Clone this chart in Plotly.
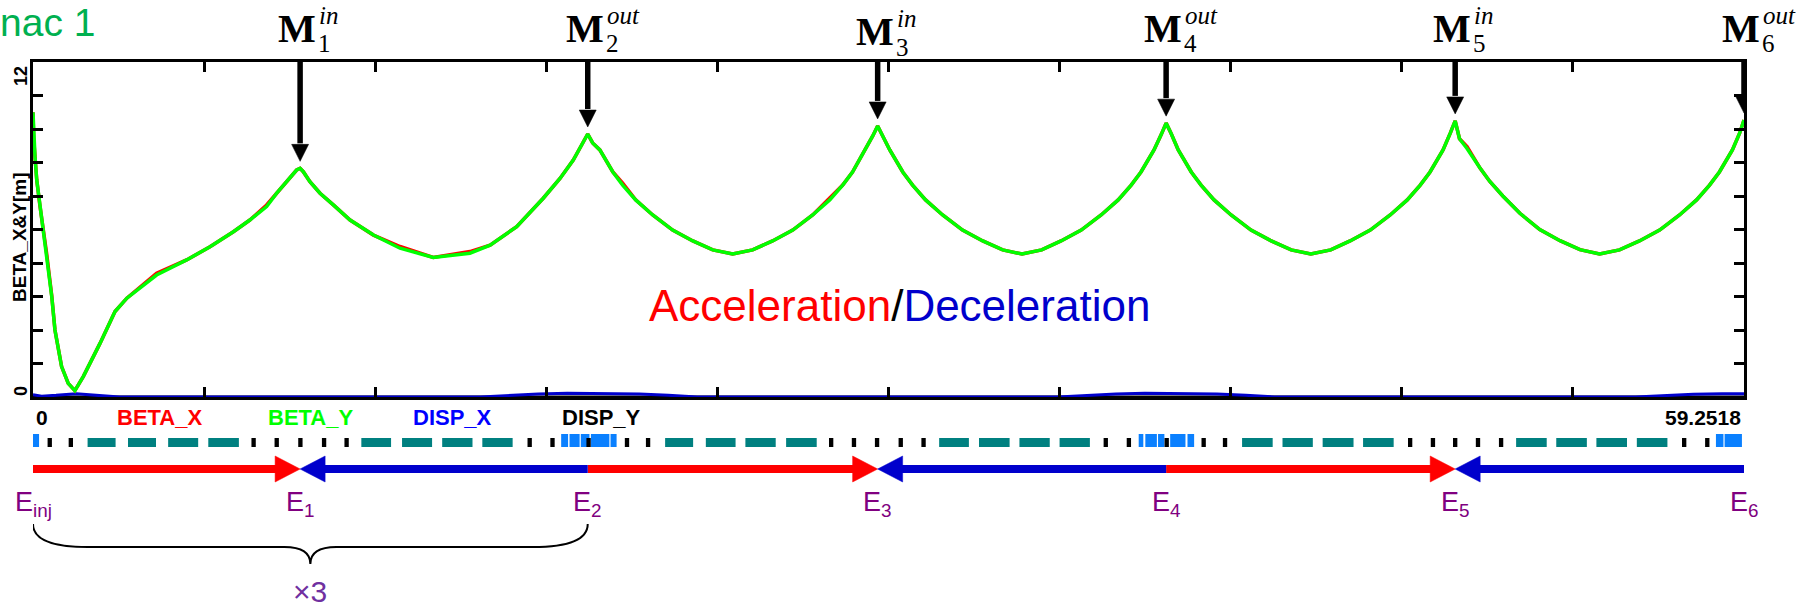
import plotly.graph_objects as go

# ---------------- data ----------------
S_END = 59.2518

s_beta = [0.00, 0.02, 0.07, 0.13, 0.24, 0.36, 0.47, 0.65, 0.76, 0.99, 1.22, 1.45, 1.74, 2.32, 2.84,
          3.25, 4.28, 5.32, 6.13, 6.94, 7.51, 8.09, 8.44, 8.90, 9.13, 9.25, 9.36, 9.59, 9.94, 10.40,
          10.98, 11.79, 12.71, 13.86, 15.13, 15.83, 16.75, 17.67, 18.25, 18.71, 19.21,
          19.38, 19.63, 20.08, 20.42, 20.87, 21.46, 22.15, 22.85, 23.54, 24.23, 24.92, 25.61, 26.31,
          27.00, 27.59, 28.04, 28.38, 28.83, 29.08, 29.25,
          29.42, 29.67, 30.12, 30.46, 30.91, 31.50, 32.19, 32.89, 33.58, 34.25, 34.93, 35.60, 36.30,
          36.99, 37.58, 38.03, 38.37, 38.82, 39.07, 39.24,
          39.41, 39.66, 40.11, 40.45, 40.90, 41.49, 42.18, 42.88, 43.57, 44.25, 44.94, 45.61, 46.31,
          47.00, 47.59, 48.04, 48.38, 48.83, 49.08, 49.25,
          49.40, 49.66, 50.11, 50.45, 50.90, 51.49, 52.18, 52.88, 53.57, 54.25, 54.94, 55.63, 56.33,
          57.02, 57.61, 58.06, 58.40, 58.85, 59.10, 59.2518]

beta_y = [10.20, 9.40, 8.60, 7.77, 6.85, 5.98, 5.16, 3.59, 2.40, 1.09, 0.49, 0.23, 0.73, 1.92, 3.06,
          3.54, 4.37, 4.91, 5.38, 5.92, 6.34, 6.82, 7.30, 7.83, 8.13, 8.19, 8.07, 7.71, 7.30, 6.88,
          6.34, 5.80, 5.33, 5.00, 5.15, 5.44, 6.10, 7.12, 7.83, 8.49, 9.42,
          9.10, 8.85, 8.06, 7.59, 7.06, 6.52, 5.98, 5.59, 5.27, 5.12, 5.27, 5.59, 5.98,
          6.52, 7.06, 7.59, 8.06, 8.85, 9.35, 9.71,
          9.38, 8.85, 8.06, 7.59, 7.06, 6.52, 5.98, 5.59, 5.27, 5.12, 5.27, 5.59, 5.98,
          6.52, 7.06, 7.59, 8.06, 8.85, 9.40, 9.81,
          9.45, 8.85, 8.06, 7.59, 7.06, 6.52, 5.98, 5.59, 5.27, 5.12, 5.27, 5.59, 5.98,
          6.52, 7.06, 7.59, 8.06, 8.85, 9.45, 9.89,
          9.25, 8.90, 8.20, 7.72, 7.20, 6.58, 6.00, 5.60, 5.28, 5.12, 5.27, 5.59, 5.98,
          6.52, 7.06, 7.59, 8.06, 8.85, 9.45, 9.92]

beta_x = [10.20, 9.30, 8.60, 7.77, 6.85, 6.05, 5.16, 3.62, 2.40, 1.09, 0.49, 0.23, 0.73, 1.92, 3.06,
          3.54, 4.43, 4.91, 5.38, 5.92, 6.34, 6.88, 7.30, 7.83, 8.13, 8.19, 8.07, 7.71, 7.30, 6.88,
          6.34, 5.80, 5.39, 5.00, 5.21, 5.44, 6.10, 7.12, 7.83, 8.49, 9.42,
          9.10, 8.85, 8.06, 7.66, 7.06, 6.52, 5.98, 5.59, 5.27, 5.12, 5.27, 5.59, 5.98,
          6.52, 7.13, 7.59, 8.06, 8.85, 9.35, 9.71,
          9.38, 8.85, 8.06, 7.59, 7.06, 6.52, 5.98, 5.59, 5.27, 5.12, 5.27, 5.59, 5.98,
          6.52, 7.06, 7.59, 8.06, 8.85, 9.40, 9.81,
          9.45, 8.85, 8.06, 7.59, 7.06, 6.52, 5.98, 5.59, 5.27, 5.12, 5.27, 5.59, 5.98,
          6.52, 7.06, 7.59, 8.06, 8.85, 9.45, 9.89,
          9.25, 8.97, 8.20, 7.72, 7.20, 6.58, 6.00, 5.60, 5.28, 5.12, 5.27, 5.59, 5.98,
          6.52, 7.06, 7.59, 8.06, 8.85, 9.45, 9.92]

s_disp = [0.0, 0.3, 0.8, 1.5, 2.3, 3.0, 15.5, 16.5, 17.5, 18.5, 19.2, 20.0, 21.0, 22.0, 23.0,
          35.5, 36.5, 37.5, 38.5, 39.2, 40.0, 41.0, 42.0, 43.0, 55.5, 56.5, 57.5, 58.5, 59.2518]
disp_x = [0.08, 0.03, 0.06, 0.12, 0.05, 0.0, 0.0, 0.06, 0.11, 0.13, 0.13, 0.13, 0.11, 0.06, 0.0,
          0.0, 0.06, 0.11, 0.13, 0.13, 0.13, 0.11, 0.06, 0.0, 0.0, 0.05, 0.10, 0.12, 0.12]
s_dispy = [0.0, 59.2518]
disp_y = [0.0, 0.0]

x_ticks = [0.0, 5.925, 11.850, 17.776, 23.701, 29.626, 35.551, 41.476, 47.401, 53.327, 59.2518]
y_ticks = [0.0, 1.2, 2.4, 3.6, 4.8, 6.0, 7.2, 8.4, 9.6, 10.8, 12.0]
y_range = [0.0, 12.0]
y_tick_text = ["0", "12"]

# matching points M_k (position, beta at the peak)
m_s = [9.25, 19.21, 29.25, 39.24, 49.25, 59.2518]
m_beta = [8.19, 9.42, 9.71, 9.81, 9.89, 9.92]
m_sub = ["1", "2", "3", "4", "5", "6"]
m_sup = ["in", "out", "in", "out", "in", "out"]

# energies along the linac
e_s = [0.0, 9.25, 19.21, 29.25, 39.24, 49.25, 59.2518]
e_sub = ["inj", "1", "2", "3", "4", "5", "6"]
acc_arrows = [(0, 1), (2, 3), (4, 5)]   # (from, to) index into e_s
dec_arrows = [(2, 1), (4, 3), (6, 5)]

# lattice elements
quad_s = [0.58, 1.31, 7.64, 8.44, 9.26, 10.08, 10.86, 17.20, 17.99, 19.24,
          20.57, 21.30, 27.64, 28.43, 29.23, 30.05, 30.84, 37.15, 37.95, 39.26,
          40.54, 41.28, 47.69, 48.48, 49.25, 50.04, 50.84, 57.18, 57.98]
quad_len = 0.15
cav_s0 = [1.89, 3.29, 4.68, 6.07, 11.37, 12.78, 14.17, 15.56, 21.89, 23.30, 24.67, 26.08,
          31.38, 32.76, 34.16, 35.55, 41.87, 43.27, 44.66, 46.06, 51.36, 52.75, 54.14, 55.54]
cav_s1 = [2.86, 4.26, 5.72, 7.13, 12.40, 13.82, 15.22, 16.61, 22.86, 24.33, 25.72, 27.14,
          32.41, 33.82, 35.21, 36.60, 42.93, 44.32, 45.73, 47.12, 52.42, 53.81, 55.20, 56.60]
dip_s0 = [-0.03, 18.29, 18.58, 18.97, 19.32, 20.00, 38.29, 38.52, 38.96, 39.38, 39.98, 58.28, 58.58]
dip_s1 = [0.21, 18.53, 18.93, 19.27, 19.96, 20.21, 38.45, 38.92, 39.18, 39.91, 40.21, 58.54, 59.18]

legend_names = ["BETA_X", "BETA_Y", "DISP_X", "DISP_Y"]
legend_colors = ["#ff0000", "#00ff00", "#0000ff", "#000000"]

# ---------------- layout helpers ----------------
W, H = 1803, 610
L, R, T, B = 33, 1744, 62, 397
DX = S_END / (R - L)                       # data units per pixel (x)
DY = (y_range[1] - y_range[0]) / (B - T)   # data units per pixel (y)


def PX(px):
    return (px - L) / (R - L)


def PY(py):
    return (B - py) / (B - T)


RED = "#ff0000"
BLUE = "#0000cc"
GREEN = "#00ff00"
PURPLE = "#800080"
SANS = "Liberation Sans, Arial, sans-serif"
SERIF = "Liberation Serif, Times New Roman, serif"

fig = go.Figure()
fig.add_trace(go.Scatter(x=s_dispy, y=disp_y, mode="lines", line=dict(color="black", width=3), name="DISP_Y"))
fig.add_trace(go.Scatter(x=s_disp, y=disp_x, mode="lines", line=dict(color=BLUE, width=3), name="DISP_X"))
fig.add_trace(go.Scatter(x=s_beta, y=beta_x, mode="lines", line=dict(color=RED, width=3.5), name="BETA_X"))
fig.add_trace(go.Scatter(x=s_beta, y=beta_y, mode="lines", line=dict(color=GREEN, width=3.5), name="BETA_Y"))

ann = []
shapes = []

# title fragment top-left (the figure shows only "nac 1" at the left edge)
ann.append(dict(text="nac 1", x=0, y=PY(22), xref="paper", yref="paper", xanchor="left", xshift=-L,
                yanchor="middle", showarrow=False, borderpad=0, borderwidth=0,
                font=dict(family=SANS, size=39, color="#00b050")))

# y-axis labels
ann.append(dict(text="<b>BETA_X&Y[m]</b>", x=PX(20), y=PY(237), xref="paper", yref="paper", textangle=-90,
                xanchor="center", yanchor="middle", showarrow=False, font=dict(family=SANS, size=19, color="black")))
for t, pyy in [(y_tick_text[1], 76), (y_tick_text[0], 391)]:
    ann.append(dict(text="<b>%s</b>" % t, x=PX(21), y=PY(pyy), xref="paper", yref="paper", textangle=-90,
                    xanchor="center", yanchor="middle", showarrow=False, font=dict(family=SANS, size=18, color="black")))

# Acceleration / Deceleration
ann.append(dict(text='<span style="color:%s">Acceleration</span>/<span style="color:%s">Deceleration</span>' % (RED, BLUE),
                x=PX(899), y=PY(305), xref="paper", yref="paper", xanchor="center", yanchor="middle",
                showarrow=False, font=dict(family=SANS, size=44, color="black")))

# M markers with arrows (shaft + head drawn as shapes)
y_top_data = y_range[1] + (T - 53) * DY
head_len, head_half, gap = 17, 8.5, 7
for k, (s, b, sub, sup) in enumerate(zip(m_s, m_beta, m_sub, m_sup)):
    dy_lbl = 3 if k == 2 else 0
    tip = b + gap * DY
    base = tip + head_len * DY
    shapes.append(dict(type="line", xref="x", yref="y", x0=s, x1=s, y0=y_top_data - dy_lbl * DY, y1=base + 1 * DY,
                       line=dict(color="black", width=5.5)))
    shapes.append(dict(type="path", xref="x", yref="y",
                       path=f"M {s - head_half * DX},{base} L {s + head_half * DX},{base} L {s},{tip} Z",
                       fillcolor="black", line=dict(color="black", width=0.5)))
    ann.append(dict(text="<b>M</b>", x=s, y=PY(29 + dy_lbl), xref="x", yref="paper", xshift=-3, xanchor="center",
                    yanchor="middle", showarrow=False, font=dict(family=SERIF, size=40, color="black")))
    ann.append(dict(text=sub, x=s, y=PY(44 + dy_lbl), xref="x", yref="paper", xshift=16, xanchor="left",
                    yanchor="middle", showarrow=False, font=dict(family=SERIF, size=25, color="black")))
    ann.append(dict(text="<i>%s</i>" % sup, x=s, y=PY(16 + dy_lbl), xref="x", yref="paper", xshift=17, xanchor="left",
                    yanchor="middle", showarrow=False, font=dict(family=SERIF, size=25, color="black")))

# row of labels under axis
ann.append(dict(text="<b>0</b>", x=x_ticks[0], y=PY(417), xref="x", yref="paper", xanchor="left", xshift=1,
                yanchor="middle", showarrow=False, font=dict(family=SANS, size=21, color="black")))
ann.append(dict(text="<b>%s</b>" % S_END, x=x_ticks[-1], y=PY(417), xref="x", yref="paper", xanchor="right", xshift=-1,
                yanchor="middle", showarrow=False, font=dict(family=SANS, size=21, color="black")))
for name, col, cx in zip(legend_names, legend_colors, [159, 310, 452, 601]):
    ann.append(dict(text="<b>%s</b>" % name, x=PX(cx), y=PY(417), xref="paper", yref="paper", xanchor="center",
                    yanchor="middle", showarrow=False, font=dict(family=SANS, size=22, color=col)))

# lattice elements
for a, b in zip(dip_s0, dip_s1):
    shapes.append(dict(type="rect", xref="x", yref="paper", x0=a, x1=b, y0=PY(447), y1=PY(434),
                       fillcolor="#0a80ff", line=dict(width=0)))
for a, b in zip(cav_s0, cav_s1):
    shapes.append(dict(type="rect", xref="x", yref="paper", x0=a, x1=b, y0=PY(447), y1=PY(438),
                       fillcolor="#008080", line=dict(width=0)))
for q in quad_s:
    shapes.append(dict(type="rect", xref="x", yref="paper", x0=q - quad_len / 2, x1=q + quad_len / 2,
                       y0=PY(447), y1=PY(438), fillcolor="black", line=dict(width=0)))

# acceleration / deceleration arrows (shaft + head as shapes)
row_y = PY(469)
e_head_len, e_head_half = 25, 13
for (i, j), col in [(p, RED) for p in acc_arrows] + [(p, BLUE) for p in dec_arrows]:
    direction = 1 if e_s[j] > e_s[i] else -1
    hb = e_s[j] - direction * e_head_len * DX
    shapes.append(dict(type="line", xref="x", yref="paper", x0=e_s[i], x1=hb + direction * 1 * DX,
                       y0=row_y, y1=row_y, line=dict(color=col, width=8)))
    shapes.append(dict(type="path", xref="x", yref="paper",
                       path=f"M {hb},{row_y + e_head_half / (B - T)} L {hb},{row_y - e_head_half / (B - T)} "
                            f"L {e_s[j]},{row_y} Z",
                       fillcolor=col, line=dict(color=col, width=0.5)))

# energy labels
for s, sub in zip(e_s, e_sub):
    ann.append(dict(text="E<sub>%s</sub>" % sub, x=s, y=PY(485), xref="x", yref="paper", xanchor="center",
                    yanchor="top", showarrow=False, font=dict(family=SANS, size=27, color=PURPLE)))

# brace and x3
x0, x1 = e_s[0], e_s[2]
xm = (x0 + x1) / 2
r1, r2 = 1.9, 0.9
yt, ym, yc = PY(524), PY(547), PY(564)
path = (f"M {x0},{yt} Q {x0},{ym} {x0 + r1},{ym} L {xm - r2},{ym} Q {xm},{ym} {xm},{yc} "
        f"Q {xm},{ym} {xm + r2},{ym} L {x1 - r1},{ym} Q {x1},{ym} {x1},{yt}")
shapes.append(dict(type="path", xref="x", yref="paper", path=path, line=dict(color="black", width=2)))
ann.append(dict(text="\u00d73", x=xm, y=PY(591), xref="x", yref="paper", xanchor="center", yanchor="middle",
                showarrow=False, font=dict(family=SANS, size=30, color="#7030a0")))

axis_common = dict(showgrid=False, zeroline=False, showline=True, linecolor="black", linewidth=3,
                   mirror="ticks", ticks="inside", ticklen=10, tickwidth=2.5, tickcolor="black",
                   showticklabels=False)

fig.update_layout(
    width=W, height=H,
    margin=dict(l=L, r=W - R, t=T, b=H - B, pad=0),
    paper_bgcolor="white", plot_bgcolor="white",
    showlegend=False,
    xaxis=dict(range=[0, S_END], tickvals=x_ticks, **axis_common),
    yaxis=dict(range=y_range, tickvals=y_ticks, **axis_common),
    annotations=ann,
    shapes=shapes,
)

fig.write_html("out.html", config={"displayModeBar": False},
               post_script="document.body.style.margin='0';document.body.style.overflow='hidden';")
